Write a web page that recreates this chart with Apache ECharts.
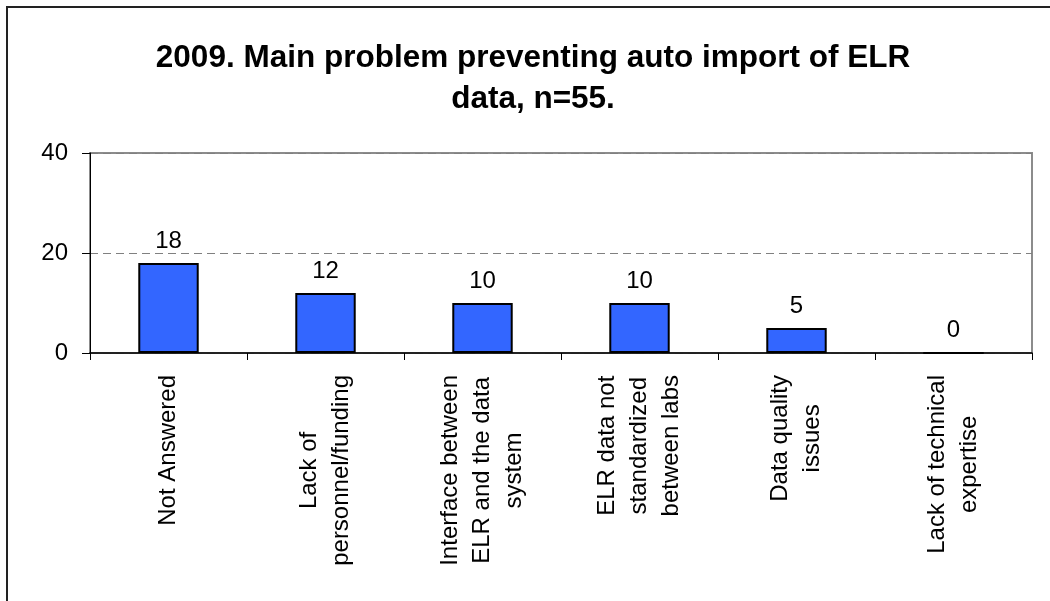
<!DOCTYPE html>
<html>
<head>
<meta charset="utf-8">
<script src="https://cdn.jsdelivr.net/npm/echarts@6/dist/echarts.min.js"></script>
<style>
  html, body { margin: 0; padding: 0; background: #fff; overflow: hidden; }
  #wrap { position: relative; width: 1050px; height: 601px; overflow: hidden; }
  #frame { position: absolute; left: 6px; top: 6px; width: 1100px; height: 700px;
           border: 2px solid #222; pointer-events: none; }
  #chart { position: absolute; left: 0; top: 0; width: 1050px; height: 601px; }
</style>
</head>
<body>
<div id="wrap">
  <div id="chart"></div>
  <div id="frame"></div>
</div>
<script>
const titleText = '2009. Main problem preventing auto import of ELR\ndata, n=55.';
const categories = [
  'Not Answered',
  'Lack of\npersonnel/funding',
  'Interface between\nELR and the data\nsystem',
  'ELR data not\nstandardized\nbetween labs',
  'Data quality\nissues',
  'Lack of technical\nexpertise'
];
const values = [18, 12, 10, 10, 5, 0];
const yTicks = [0, 20, 40];

const FONT = "'Liberation Sans', Arial, sans-serif";
const chart = echarts.init(document.getElementById('chart'), null, { renderer: 'canvas' });

chart.setOption({
  animation: false,
  backgroundColor: '#ffffff',
  title: {
    text: titleText,
    left: 533,
    top: 38,
    padding: 0,
    textAlign: 'center',
    textStyle: {
      fontFamily: FONT,
      fontSize: 31.5,
      fontWeight: 'bold',
      color: '#000',
      lineHeight: 41
    }
  },
  grid: {
    left: 90,
    right: 18,
    top: 153,
    bottom: 248,
    show: true,
    borderColor: '#8c8c8c',
    borderWidth: 2,
    containLabel: false
  },
  xAxis: {
    type: 'category',
    data: categories,
    axisLine: { show: true, lineStyle: { color: '#000', width: 1.5 } },
    axisTick: { show: true, length: 7, alignWithLabel: false, lineStyle: { color: '#000', width: 1 } },
    axisLabel: {
      rotate: 90,
      margin: 22,
      interval: 0,
      fontFamily: FONT,
      fontSize: 24,
      color: '#000',
      formatter: function (v) {
        return v.split('\n').map(function (l) { return '{c|' + l + '}'; }).join('\n');
      },
      rich: {
        c: { align: 'center', fontFamily: FONT, fontSize: 24, lineHeight: 32, color: '#000' }
      }
    }
  },
  yAxis: {
    type: 'value',
    min: yTicks[0],
    max: yTicks[yTicks.length - 1],
    interval: yTicks[1] - yTicks[0],
    axisLine: { show: true, lineStyle: { color: '#000', width: 1 } },
    axisTick: { show: true, length: 8, lineStyle: { color: '#000', width: 1 } },
    axisLabel: { margin: 22, fontFamily: FONT, fontSize: 24, color: '#000' },
    splitLine: { show: true, lineStyle: { color: '#808080', width: 1, type: [8, 5] } }
  },
  series: [{
    type: 'bar',
    data: values,
    barWidth: '38.5%',
    itemStyle: { color: '#3366ff', borderColor: '#000', borderWidth: 2 },
    label: {
      show: true,
      position: 'top',
      distance: 10,
      fontFamily: FONT,
      fontSize: 24,
      color: '#000'
    }
  }]
});
</script>
</body>
</html>
